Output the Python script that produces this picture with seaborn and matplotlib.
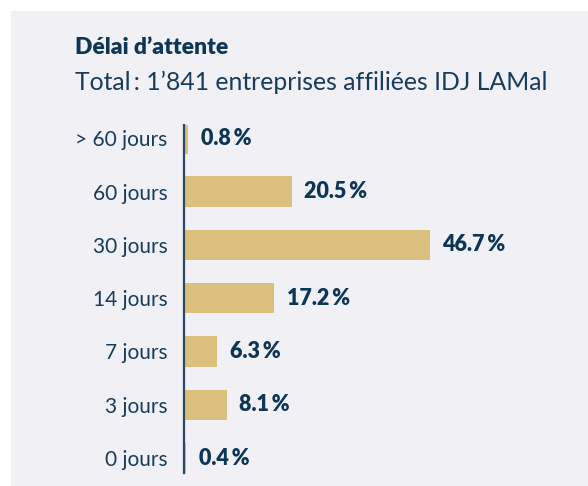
import matplotlib
matplotlib.use("Agg")
import matplotlib.pyplot as plt
import seaborn as sns
import pandas as pd
from matplotlib.patches import Rectangle

categories = ["> 60 jours", "60 jours", "30 jours", "14 jours", "7 jours", "3 jours", "0 jours"]
shares = [0.8, 20.5, 46.7, 17.2, 6.3, 8.1, 0.4]
title = "Délai d’attente"
subtitle = "Total\u2009: 1’841 entreprises affiliées IDJ LAMal"

navy = "#0d3656"
gold = "#dbbf7c"
panel = "#f0f0f5"

sns.set_style("white")
plt.rcParams["font.family"] = ["Lato", "DejaVu Sans"]

df = pd.DataFrame({"delai": categories, "part": shares})

W, H = 588, 486
fig = plt.figure(figsize=(W / 100, H / 100), dpi=100)
fig.patch.set_facecolor("white")
fig.add_artist(Rectangle((11 / W, 0), 1, 1 - 11 / H, transform=fig.transFigure,
                         facecolor=panel, edgecolor="none", zorder=0))

ax = fig.add_axes([184 / W, 13 / H, (W - 184) / W, 348 / H])
ax.set_facecolor("none")
sns.barplot(data=df, y="delai", x="part", orient="h", color=gold, width=0.57,
            saturation=1, linewidth=0, ax=ax, zorder=2)

ax.set_xlim(0, (W - 184) / 5.26)
ax.set_ylim(6.28, -0.25)
for s in ["top", "right", "bottom"]:
    ax.spines[s].set_visible(False)
ax.spines["left"].set_color("#2e4a62")
ax.spines["left"].set_linewidth(1.6)
ax.spines["left"].set_zorder(3)
ax.set_xticks([])
ax.set_xlabel("")
ax.set_ylabel("")
ax.tick_params(axis="y", length=0, pad=12, labelsize=15, labelcolor="#173c5c")

ax.bar_label(ax.containers[0], labels=[f"{v:.1f}\u2009%" for v in shares],
             padding=9, fontsize=15.5, fontweight="heavy", color=navy)

fig.text(75 / W, 1 - 47 / H, title, fontsize=16.5, fontweight="heavy", color=navy, va="center")
fig.text(75 / W, 1 - 82 / H, subtitle, fontsize=17.8, color="#173c5c", va="center")

fig.savefig("out.png", dpi=100)
